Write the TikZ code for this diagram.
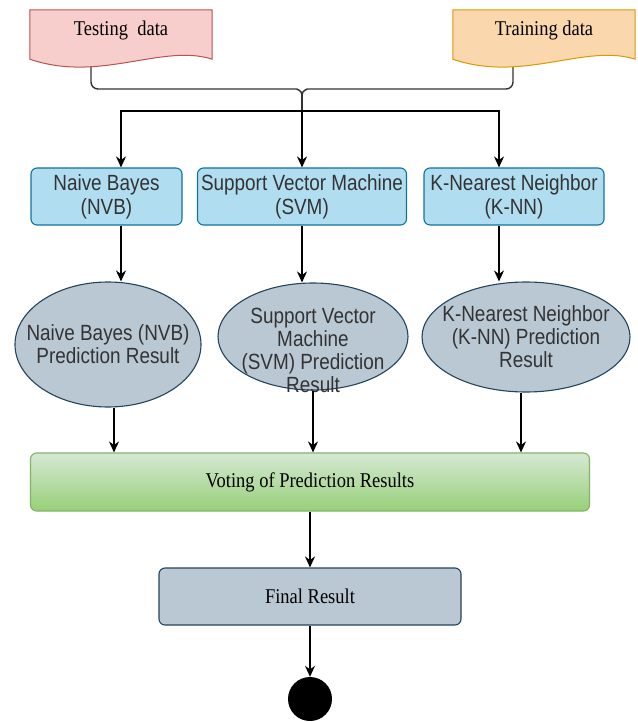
\documentclass[tikz,border=0pt]{standalone}
\usepackage{fontspec}
\newfontfamily\boxfont[FakeStretch=0.86]{Liberation Sans}
\newfontfamily\docfont[FakeStretch=0.88]{Liberation Serif}
\usetikzlibrary{arrows.meta,backgrounds,shapes.geometric}
\definecolor{pinkfill}{HTML}{F8CECC}
\definecolor{pinkline}{HTML}{B85450}
\definecolor{orangefill}{HTML}{FAD7AC}
\definecolor{orangeline}{HTML}{D79B00}
\definecolor{bluefill}{HTML}{B1DDF0}
\definecolor{blueline}{HTML}{10739E}
\definecolor{greyfill}{HTML}{BAC8D3}
\definecolor{greyline}{HTML}{23445D}
\definecolor{greentop}{HTML}{D5E8D4}
\definecolor{greenbot}{HTML}{97D077}
\definecolor{greenline}{HTML}{82B366}
\definecolor{textgrey}{HTML}{333333}
\begin{document}
\begin{tikzpicture}[x=1pt,y=-1pt,
    doc/.style={minimum width=182pt,minimum height=49pt,inner sep=0pt,text depth=12pt,
      font=\docfont\fontsize{21}{24}\selectfont},
    algo/.style={draw=blueline,fill=bluefill,line width=1.1pt,rounded corners=6pt,
      minimum height=57pt,inner sep=0pt,align=center,text=textgrey,
      font=\boxfont\fontsize{22}{24}\selectfont},
    pred/.style={ellipse,draw=greyline,fill=greyfill,line width=1.1pt,inner sep=0pt},
    predtext/.style={align=center,text=textgrey,inner sep=0pt,
      font=\boxfont\fontsize{22}{23}\selectfont},
    result/.style={draw=greyline,fill=greyfill,line width=1.1pt,rounded corners=6pt,
      minimum height=57pt,inner sep=0pt,font=\docfont\fontsize{21}{24}\selectfont},
    vote/.style={draw=greenline,top color=greentop,bottom color=greenbot,line width=1.1pt,
      rounded corners=6pt,minimum height=58pt,inner sep=0pt,
      font=\docfont\fontsize{21}{24}\selectfont},
    conn/.style={line width=1.4pt,draw=black!80},
    arr/.style={conn,draw=black,-{Stealth[length=11pt,width=10pt]}}]
      \useasboundingbox (0,0) rectangle (637,722);
      \node[doc] (test) at (121,34.5) {Testing\ \ data};
      \node[doc] (train) at (544,34.5) {Training data};
      \coordinate (brace) at (302,95);
      \coordinate (fork) at (302,111);
      \node[algo,minimum width=151pt] (nvb) at (106.5,196.5) {Naive Bayes\\(NVB)};
      \node[algo,minimum width=209pt] (svm) at (302,196.5) {Support Vector Machine\\(SVM)};
      \node[algo,minimum width=180pt] (knn) at (514,196.5) {K-Nearest Neighbor\\(K-NN)};
      \node[pred,minimum width=186pt,minimum height=125pt] (nvbres) at (108,344.5) {};
      \node[predtext] (nvbtxt) at (nvbres) {Naive Bayes (NVB)\\Prediction Result};
      \node[pred,minimum width=190pt,minimum height=107pt] (svmres) at (313,336.5) {};
      \node[predtext] (svmtxt) at ([yshift=-14pt]svmres.center) {Support Vector\\Machine\\(SVM) Prediction\\Result};
      \node[pred,minimum width=208pt,minimum height=110pt] (knnres) at (526,337) {};
      \node[predtext] (knntxt) at (knnres) {K-Nearest Neighbor\\(K-NN) Prediction\\Result};
      \node[vote,minimum width=559pt] (vote) at (310,482) {Voting of Prediction Results};
      \node[result,minimum width=302pt] (final) at (310,596.5) {Final Result};
      \node[circle,fill=black,inner sep=0pt,minimum size=44pt] (end) at (310,699) {};
      \begin{scope}[on background layer]
        \draw[conn,rounded corners=7pt] ([xshift=-30pt]test.south) |- (290,89) to[out=0,in=90] (brace);
        \draw[conn,rounded corners=7pt] ([xshift=-31pt]train.south) |- (314,89) to[out=180,in=90] (brace);
        \draw[pinkline,fill=pinkfill,line width=1pt] (test.north west) -- (test.north east)
          -- (test.south east) .. controls +(-50,-16) and +(70,24) .. (test.south west) -- cycle;
        \draw[orangeline,fill=orangefill,line width=1pt] (train.north west) -- (train.north east)
          -- (train.south east) .. controls +(-50,-16) and +(70,24) .. (train.south west) -- cycle;
      \end{scope}
      \draw[conn] (brace) -- (fork);
      \begin{scope}[arr]
        \draw (fork) -- ([xshift=14.5pt]nvb.north |- fork) -- ([xshift=14.5pt]nvb.north);
        \draw (fork) -- (svm.north);
        \draw (fork) -- ([xshift=-15pt]knn.north |- fork) -- ([xshift=-15pt]knn.north);
        \draw ([xshift=14.5pt]nvb.south) -- ([xshift=14.5pt]nvb.south |- nvbres.north);
        \draw (svm.south) -- (svm.south |- svmres.north);
        \draw ([xshift=-15pt]knn.south) -- ([xshift=-15pt]knn.south |- knnres.north);
        \draw ([xshift=6pt]nvbres.south) -- ([xshift=6pt]nvbres.south |- vote.north);
        \draw (svmres.south) -- (svmres.south |- vote.north);
        \draw ([xshift=-5pt]knnres.south) -- ([xshift=-5pt]knnres.south |- vote.north);
        \draw (vote.south) -- (final.north);
        \draw (final.south) -- (end.north);
      \end{scope}
    \end{tikzpicture}
\end{document}
